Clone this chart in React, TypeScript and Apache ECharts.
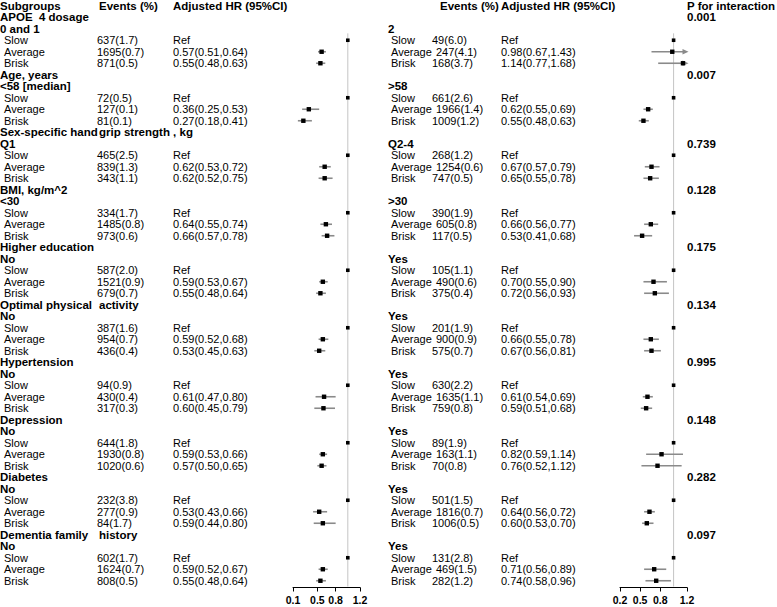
import React, { useEffect, useRef } from "react";
import * as echarts from "echarts";

// ---------- data ----------
const groupTitles = ["APOE  4 dosage", "Age, years", "Sex-specific hand", "BMI, kg/m^2", "Higher education", "Optimal physical", "Hypertension", "Depression", "Diabetes", "Dementia family"];
const groupTitleTails = ["", "", "grip strength , kg", "", "", "activity", "", "", "", "history"];
const leftSubgroups = ["0 and 1", "<58 [median]", "Q1", "<30", "No", "No", "No", "No", "No", "No"];
const rightSubgroups = ["2", ">58", "Q2-4", ">30", "Yes", "Yes", "Yes", "Yes", "Yes", "Yes"];
const levels = ["Slow", "Average", "Brisk"];

const leftEvents = [
  ["637(1.7)", "1695(0.7)", "871(0.5)"],
  ["72(0.5)", "127(0.1)", "81(0.1)"],
  ["465(2.5)", "839(1.3)", "343(1.1)"],
  ["334(1.7)", "1485(0.8)", "973(0.6)"],
  ["587(2.0)", "1521(0.9)", "679(0.7)"],
  ["387(1.6)", "954(0.7)", "436(0.4)"],
  ["94(0.9)", "430(0.4)", "317(0.3)"],
  ["644(1.8)", "1930(0.8)", "1020(0.6)"],
  ["232(3.8)", "277(0.9)", "84(1.7)"],
  ["602(1.7)", "1624(0.7)", "808(0.5)"],
];
const leftAverage = [
  [0.57, 0.51, 0.64], [0.36, 0.25, 0.53], [0.62, 0.53, 0.72], [0.64, 0.55, 0.74], [0.59, 0.53, 0.67],
  [0.59, 0.52, 0.68], [0.61, 0.47, 0.80], [0.59, 0.53, 0.66], [0.53, 0.43, 0.66], [0.59, 0.52, 0.67],
];
const leftBrisk = [
  [0.55, 0.48, 0.63], [0.27, 0.18, 0.41], [0.62, 0.52, 0.75], [0.66, 0.57, 0.78], [0.55, 0.48, 0.64],
  [0.53, 0.45, 0.63], [0.60, 0.45, 0.79], [0.57, 0.50, 0.65], [0.59, 0.44, 0.80], [0.55, 0.48, 0.64],
];

const rightEvents = [
  ["49(6.0)", "247(4.1)", "168(3.7)"],
  ["661(2.6)", "1966(1.4)", "1009(1.2)"],
  ["268(1.2)", "1254(0.6)", "747(0.5)"],
  ["390(1.9)", "605(0.8)", "117(0.5)"],
  ["105(1.1)", "490(0.6)", "375(0.4)"],
  ["201(1.9)", "900(0.9)", "575(0.7)"],
  ["630(2.2)", "1635(1.1)", "759(0.8)"],
  ["89(1.9)", "163(1.1)", "70(0.8)"],
  ["501(1.5)", "1816(0.7)", "1006(0.5)"],
  ["131(2.8)", "469(1.5)", "282(1.2)"],
];
const rightAverage = [
  [0.98, 0.67, 1.43], [0.62, 0.55, 0.69], [0.67, 0.57, 0.79], [0.66, 0.56, 0.77], [0.70, 0.55, 0.90],
  [0.66, 0.55, 0.78], [0.61, 0.54, 0.69], [0.82, 0.59, 1.14], [0.64, 0.56, 0.72], [0.71, 0.56, 0.89],
];
const rightBrisk = [
  [1.14, 0.77, 1.68], [0.55, 0.48, 0.63], [0.65, 0.55, 0.78], [0.53, 0.41, 0.68], [0.72, 0.56, 0.93],
  [0.67, 0.56, 0.81], [0.59, 0.51, 0.68], [0.76, 0.52, 1.12], [0.60, 0.53, 0.70], [0.74, 0.58, 0.96],
];
const pInteraction = ["0.001", "0.007", "0.739", "0.128", "0.175", "0.134", "0.995", "0.148", "0.282", "0.097"];

const leftTicks = [0.1, 0.5, 0.8, 1.2];
const rightTicks = [0.2, 0.5, 0.8, 1.2];
const REF = 1;

// ---------- layout ----------
const FONT = '"Liberation Sans", Arial, Helvetica, sans-serif';
const ROW_H = 11.5;
const N_ROWS = 51;
const rowY = (i: number) => ROW_H * (i + 0.5);
const pRowShift = [0, 0, 1, 0, 0, 0, 0, 0, 0, 0];
const COL = {
  lTitle: 0, lLevel: 4, lEvents: 97, lHR: 173, lEventsHead: 99, lTail: 99,
  rTitle: 388, rLevel: 391, rEvents: 432, rEventsAvg: 436, rHR: 501, rEventsHead: 440,
  p: 687,
};

function text(x: number, row: number, t: string, bold: boolean) {
  return {
    type: "text",
    x,
    y: rowY(row),
    silent: true,
    style: {
      text: t,
      fill: "#000",
      fontFamily: FONT,
      fontSize: bold ? 11.5 : 11,
      fontWeight: bold ? "bold" : "normal",
      align: "left",
      verticalAlign: "middle",
    },
  };
}

const fmtHR = (v: number[]) => `${v[0].toFixed(2)}(${v[1].toFixed(2)},${v[2].toFixed(2)})`;

function makeForestSeries(avg: number[][], brisk: number[][], axisIndex: number, xmax: number) {
  const data: number[][] = [];
  avg.forEach((a, g) => {
    const base = 1 + g * 5;
    data.push([base + 2, REF, REF, REF]);
    data.push([base + 3, a[0], a[1], a[2]]);
    data.push([base + 4, brisk[g][0], brisk[g][1], brisk[g][2]]);
  });
  return {
    type: "custom",
    xAxisIndex: axisIndex,
    yAxisIndex: axisIndex,
    clip: false,
    z: 5,
    encode: { x: [1, 2, 3], y: 0 },
    data,
    renderItem: (params: any, api: any) => {
      const row = api.value(0);
      const hr = api.value(1);
      const lo = api.value(2);
      const hi = api.value(3);
      const pc = api.coord([hr, row]);
      if (lo === hi) {
        return {
          type: "rect",
          shape: { x: pc[0] - 1.8, y: pc[1] - 1.8, width: 3.6, height: 3.6 },
          style: { fill: "#000" },
        };
      }
      const over = hi > xmax;
      const pl = api.coord([lo, row]);
      const ph = api.coord([Math.min(hi, xmax), row]);
      const children: any[] = [
        {
          type: "line",
          shape: { x1: pl[0], y1: pl[1], x2: over ? ph[0] - 3 : ph[0], y2: ph[1] },
          style: { stroke: "#8a8a8a", lineWidth: 1.6 },
        },
      ];
      if (over) {
        children.push({
          type: "polygon",
          shape: { points: [[ph[0] - 4.5, ph[1] - 2.8], [ph[0] + 1.5, ph[1]], [ph[0] - 4.5, ph[1] + 2.8]] },
          style: { fill: "#8a8a8a" },
        });
      }
      children.push({
        type: "rect",
        shape: { x: pc[0] - 2.2, y: pc[1] - 2.2, width: 4.4, height: 4.4 },
        style: { fill: "#000" },
      });
      return { type: "group", children };
    },
  };
}

function xAxisFor(gridIndex: number, ticks: number[]) {
  return {
    type: "value",
    gridIndex,
    min: ticks[0],
    max: ticks[ticks.length - 1],
    position: "bottom",
    offset: 1,
    axisLine: { show: true, onZero: false, lineStyle: { color: "#000", width: 1 } },
    axisTick: { show: true, customValues: ticks, length: 4, lineStyle: { color: "#000" } },
    axisLabel: {
      show: true,
      customValues: ticks,
      formatter: (v: number) => String(v),
      color: "#000",
      fontFamily: FONT,
      fontSize: 10.5,
      fontWeight: "bold",
      margin: 7,
    },
    splitLine: { show: false },
  };
}

function yAxisFor(gridIndex: number) {
  return {
    type: "value",
    gridIndex,
    min: -0.5,
    max: N_ROWS - 0.5,
    inverse: true,
    show: false,
  };
}

export default function App() {
  const ref = useRef<HTMLDivElement>(null);
  useEffect(() => {
    document.body.style.margin = "0";
    if (!ref.current) return;
    const chart = echarts.init(ref.current, null, { renderer: "svg" });

    const graphics: any[] = [];
    graphics.push(text(COL.lTitle, 0, "Subgroups", true));
    graphics.push(text(COL.lEventsHead, 0, "Events (%)", true));
    graphics.push(text(COL.lHR, 0, "Adjusted HR (95%CI)", true));
    graphics.push(text(COL.rEventsHead, 0, "Events (%)", true));
    graphics.push(text(COL.rHR, 0, "Adjusted HR (95%CI)", true));
    graphics.push(text(COL.p, 0, "P for interaction", true));

    groupTitles.forEach((title, g) => {
      const base = 1 + g * 5;
      graphics.push(text(COL.lTitle, base, title, true));
      if (groupTitleTails[g]) graphics.push(text(COL.lTail, base, groupTitleTails[g], true));
      graphics.push(text(COL.p, base + pRowShift[g], pInteraction[g], true));
      graphics.push(text(COL.lTitle, base + 1, leftSubgroups[g], true));
      graphics.push(text(COL.rTitle, base + 1, rightSubgroups[g], true));
      levels.forEach((lv, k) => {
        const r = base + 2 + k;
        graphics.push(text(COL.lLevel, r, lv, false));
        graphics.push(text(COL.lEvents, r, leftEvents[g][k], false));
        graphics.push(text(COL.lHR, r, k === 0 ? "Ref" : fmtHR(k === 1 ? leftAverage[g] : leftBrisk[g]), false));
        graphics.push(text(COL.rLevel, r, lv, false));
        graphics.push(text(k === 1 ? COL.rEventsAvg : COL.rEvents, r, rightEvents[g][k], false));
        graphics.push(text(COL.rHR, r, k === 0 ? "Ref" : fmtHR(k === 1 ? rightAverage[g] : rightBrisk[g]), false));
      });
    });

    const refLine = (idx: number) => ({
      type: "line",
      xAxisIndex: idx,
      yAxisIndex: idx,
      data: [[REF, 2.4], [REF, N_ROWS - 0.5]],
      symbol: "none",
      silent: true,
      z: 1,
      lineStyle: { color: "#c4c4c4", width: 1 },
    });

    chart.setOption({
      animation: false,
      backgroundColor: "#fff",
      grid: [
        { left: 293, width: 67, top: 0, height: ROW_H * N_ROWS },
        { left: 620, width: 67, top: 0, height: ROW_H * N_ROWS },
      ],
      xAxis: [xAxisFor(0, leftTicks), xAxisFor(1, rightTicks)],
      yAxis: [yAxisFor(0), yAxisFor(1)],
      series: [
        refLine(0),
        refLine(1),
        makeForestSeries(leftAverage, leftBrisk, 0, leftTicks[leftTicks.length - 1]),
        makeForestSeries(rightAverage, rightBrisk, 1, rightTicks[rightTicks.length - 1]),
      ],
      graphic: graphics,
    });
    return () => chart.dispose();
  }, []);
  return <div ref={ref} style={{ width: 777, height: 607 }} />;
}
